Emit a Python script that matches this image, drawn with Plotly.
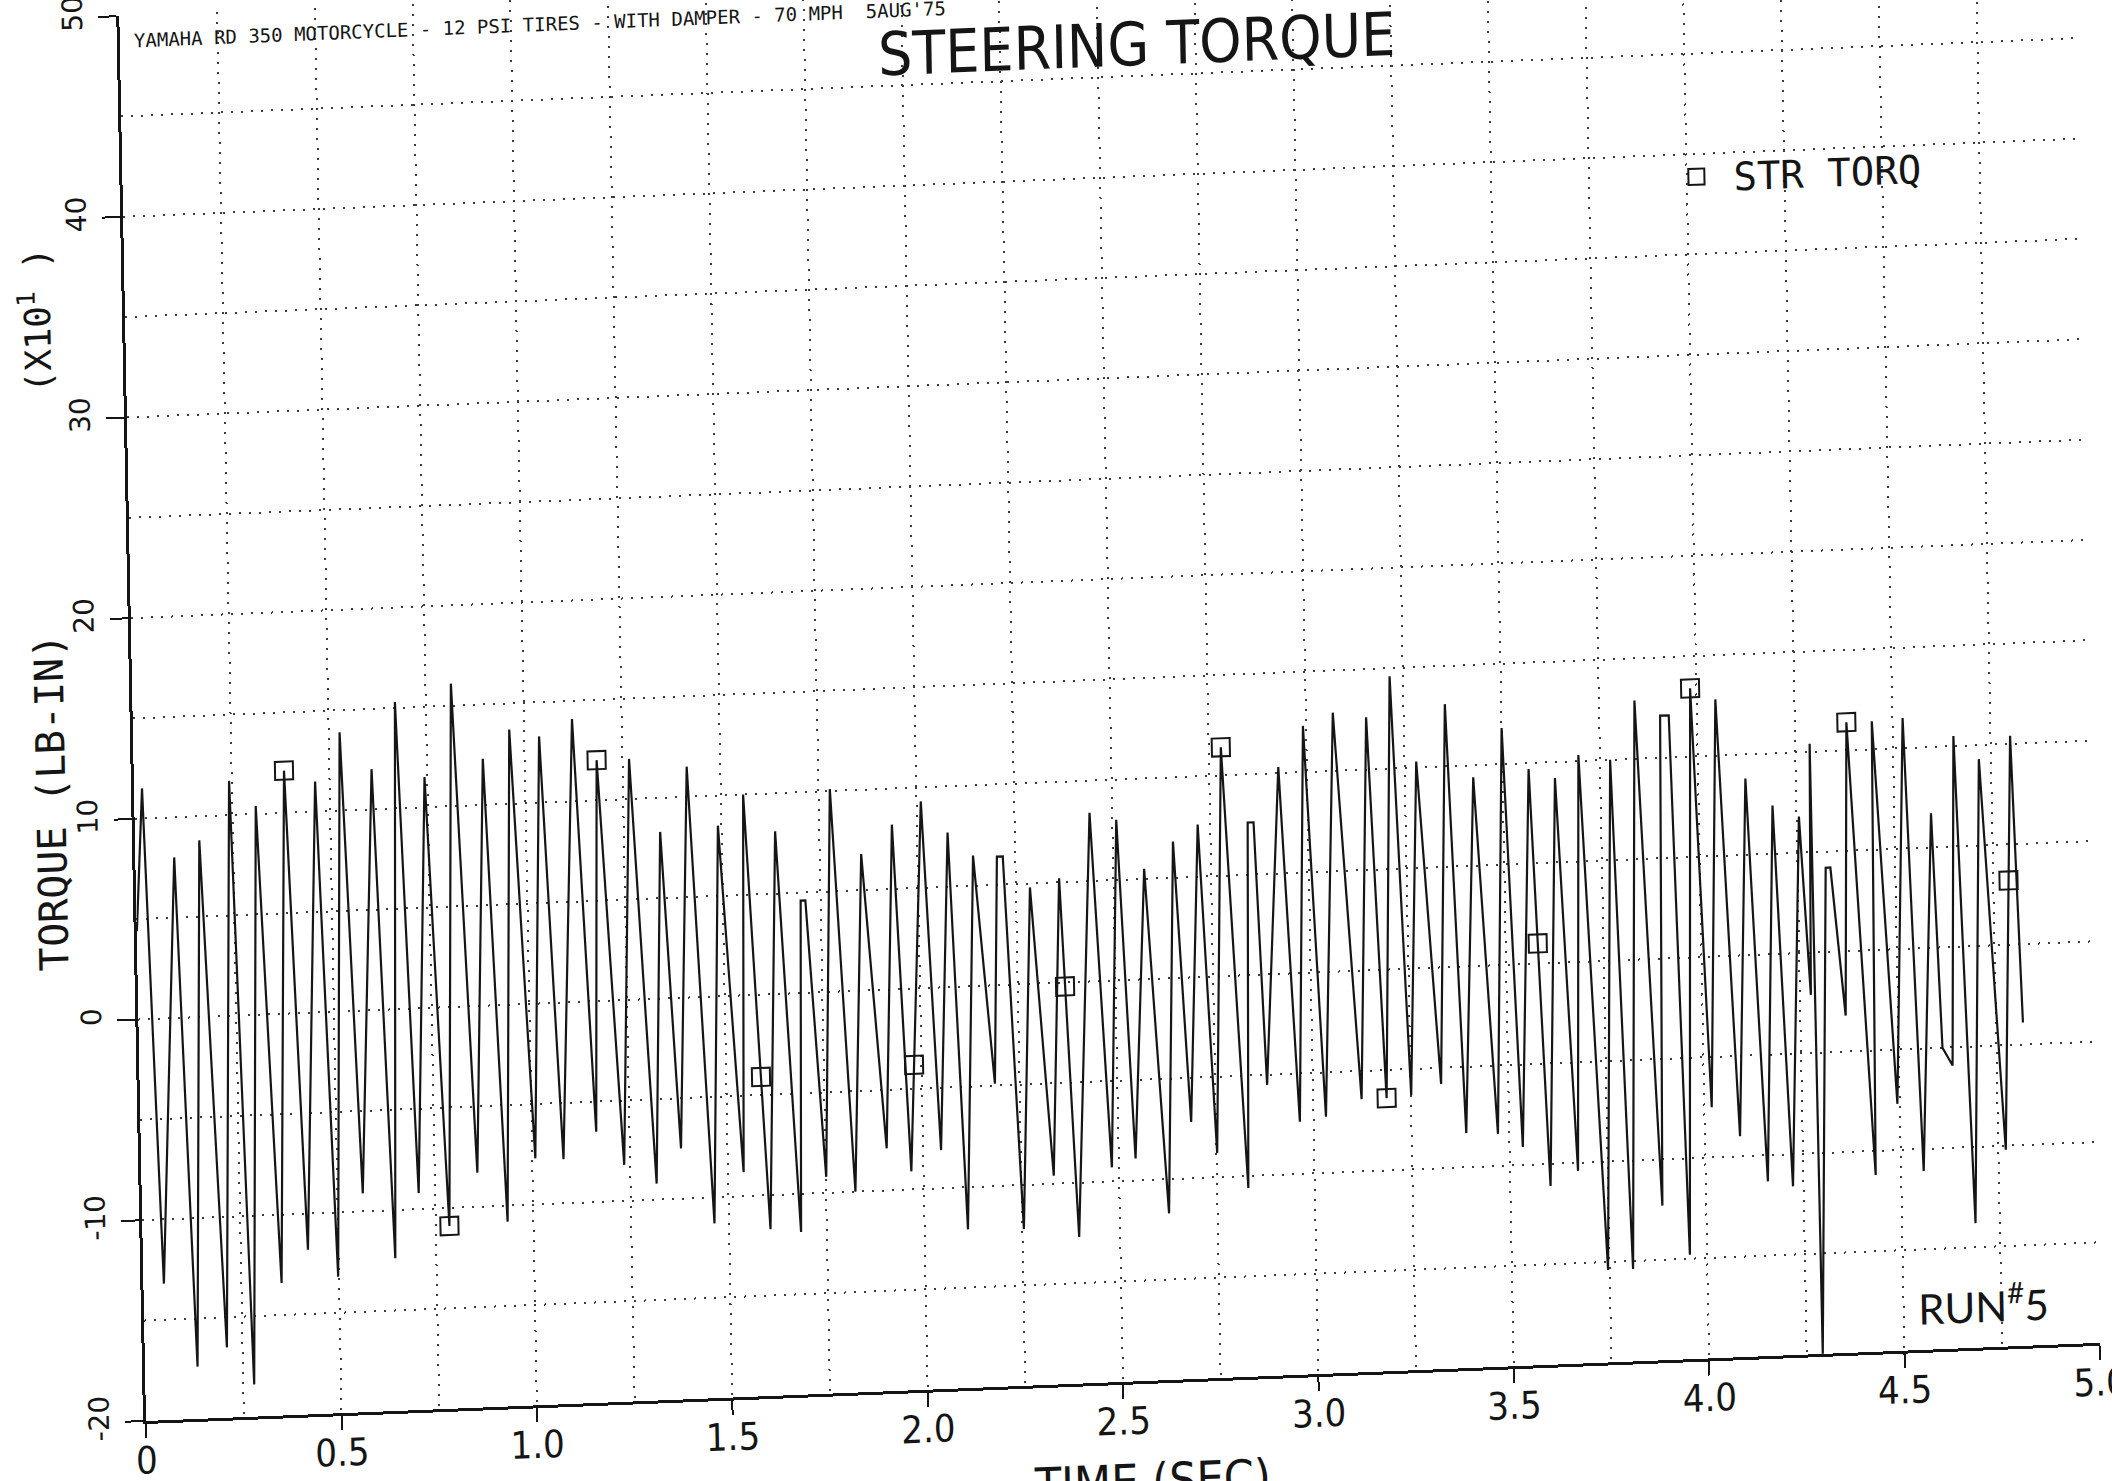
import plotly.graph_objects as go

# ---------------- data ----------------
time_s = [
    0.000, 0.020, 0.052, 0.099, 0.134, 0.164, 0.210, 0.243, 0.278, 0.310,
    0.353, 0.384, 0.422, 0.463, 0.498, 0.528, 0.565, 0.608, 0.645, 0.671,
    0.708, 0.743, 0.785, 0.815, 0.859, 0.893, 0.934, 0.962, 1.008, 1.038,
    1.080, 1.123, 1.165, 1.184, 1.235, 1.267, 1.317, 1.343, 1.381, 1.414,
    1.463, 1.491, 1.540, 1.557, 1.606, 1.637, 1.684, 1.699, 1.711, 1.751,
    1.779, 1.825, 1.856, 1.907, 1.936, 1.969, 2.011, 2.046, 2.078, 2.111,
    2.142, 2.187, 2.203, 2.218, 2.254, 2.286, 2.333, 2.361, 2.395, 2.442,
    2.482, 2.510, 2.543, 2.579, 2.626, 2.654, 2.687, 2.718, 2.752, 2.781,
    2.830, 2.846, 2.861, 2.883, 2.927, 2.965, 2.992, 3.032, 3.069, 3.124,
    3.154, 3.188, 3.216, 3.251, 3.280, 3.328, 3.356, 3.390, 3.425, 3.471,
    3.500, 3.534, 3.567, 3.603, 3.634, 3.674, 3.695, 3.746, 3.776, 3.810,
    3.841, 3.888, 3.906, 3.928, 3.956, 3.984, 4.019, 4.048, 4.090, 4.121,
    4.159, 4.189, 4.223, 4.256, 4.278, 4.287, 4.291, 4.322, 4.334, 4.366,
    4.382, 4.435, 4.447, 4.494, 4.526, 4.558, 4.594, 4.612, 4.637, 4.655,
    4.688, 4.719, 4.769, 4.800, 4.819,
]
torque = [
    4.4, 11.5, -13.2, 8.0, -17.4, 8.8, -16.5, 11.7, -18.4, 10.4,
    -13.4, 12.1, -11.8, 11.5, -13.2, 13.9, -9.1, 12.0, -12.4, 15.3,
    -9.2, 11.5, -10.9, 16.1, -8.3, 12.3, -10.8, 13.7, -7.7, 13.3,
    -7.8, 14.1, -6.5, 12.0, -8.2, 12.0, -9.2, 8.3, -7.5, 11.5,
    -11.3, 8.5, -8.8, 10.0, -11.7, 8.1, -11.9, 4.6, 4.6, -9.2,
    10.1, -10.0, 6.8, -7.9, 8.2, -9.1, 9.3, -8.1, 7.7, -12.1,
    6.5, -4.9, 6.4, 6.4, -12.2, 4.8, -9.6, 5.2, -12.7, 8.4,
    -9.3, 8.0, -8.9, 5.5, -11.7, 6.8, -7.2, 7.6, -8.8, 11.4,
    -10.6, 7.6, 7.6, -5.5, 10.3, -7.4, 12.3, -7.2, 12.9, -6.4,
    12.6, -6.4, 14.6, -6.3, 10.3, -5.8, 13.1, -8.3, 9.4, -8.4,
    11.8, -9.1, 9.7, -11.1, 9.2, -10.4, 10.3, -15.4, 10.0, -15.4,
    12.9, -12.3, 12.1, 12.1, -14.8, 13.4, -7.5, 12.8, -9.0, 8.8,
    -11.3, 7.4, -11.6, 6.8, -2.1, 10.4, -20.0, 4.2, 4.2, -3.2,
    11.4, -11.2, 11.4, -7.7, 11.5, -11.1, 6.7, -5.0, -5.9, 10.5,
    -13.8, 9.3, -10.2, 10.4, -3.9,
]
marker_time = [0.384, 0.785, 1.184, 1.589, 1.981, 2.371, 2.781, 3.188, 3.582, 3.984, 4.382, 4.789]
marker_torque = [12.1, -10.9, 12.0, -4.1, -3.8, -0.2, 11.4, -6.4, 1.0, 13.4, 11.4, 3.2]

x_tick_vals = [0, 0.5, 1.0, 1.5, 2.0, 2.5, 3.0, 3.5, 4.0, 4.5, 5.0]
x_tick_text = ["0", "0.5", "1.0", "1.5", "2.0", "2.5", "3.0", "3.5", "4.0", "4.5", "5.0"]
y_tick_vals = [-20, -10, 0, 10, 20, 30, 40, 50]
y_tick_text = ["-20", "-10", "0", "10", "20", "30", "40", "50"]

# ---------------- styling ----------------
INK = "#151515"
GRID = "#3c3c3c"
MONO = "DejaVu Sans Mono, Liberation Mono, monospace"
NARROW = "Liberation Sans Narrow, DejaVu Sans Condensed, Roboto Condensed, Arial Narrow, sans-serif"
DOTS = "2px,8px"

fig = go.Figure()
fig.add_trace(go.Scatter(
    x=time_s, y=torque, mode="lines",
    line=dict(color=INK, width=2.2), showlegend=False, hoverinfo="skip",
))
fig.add_trace(go.Scatter(
    x=marker_time, y=marker_torque, mode="markers", name="STR TORQ",
    marker=dict(symbol="square-open", size=18, color=INK, line=dict(width=2, color=INK)),
))

axis_common = dict(
    ticks="outside", tickwidth=2, tickcolor=INK,
    showline=True, linewidth=3, linecolor=INK, mirror=False,
    showgrid=True, gridcolor=GRID, gridwidth=2, griddash=DOTS,
    zeroline=False, fixedrange=True, ticklabeloverflow="allow",
)

fig.update_layout(
    width=2112, height=1481,
    margin=dict(l=146, r=12, t=16, b=60, autoexpand=False),
    paper_bgcolor="white", plot_bgcolor="white",
    title=dict(
        text="STEERING TORQUE", xref="paper", yref="paper", x=0.52, y=0.951,
        xanchor="center", yanchor="middle",
        font=dict(family=NARROW, size=60, color=INK),
    ),
    xaxis=dict(
        range=[-0.0005, 5.0005], tickvals=x_tick_vals, ticktext=x_tick_text,
        ticklen=14, ticklabelstandoff=-10,
        tickfont=dict(family=NARROW, size=38, color=INK),
        minor=dict(dtick=0.25, tick0=0, showgrid=True, gridcolor=GRID, gridwidth=2, griddash=DOTS),
        **axis_common,
    ),
    yaxis=dict(
        range=[-20.005, 50.005], tickvals=y_tick_vals, ticktext=y_tick_text, tickangle=-90,
        ticklen=18, ticklabelstandoff=5,
        tickfont=dict(family="DejaVu Sans, sans-serif", size=28, color=INK),
        minor=dict(dtick=5, tick0=0, showgrid=True, gridcolor=GRID, gridwidth=2, griddash=DOTS),
        **axis_common,
    ),
    showlegend=True,
    legend=dict(
        x=0.786, xanchor="left", y=0.8407, yanchor="middle",
        font=dict(family=MONO, size=39, color=INK),
        bgcolor="rgba(0,0,0,0)", borderwidth=0, itemwidth=64,
    ),
    annotations=[
        dict(text="YAMAHA RD 350 MOTORCYCLE - 12 PSI TIRES - WITH DAMPER - 70 MPH  5AUG'75",
             xref="x", yref="y", x=0.03, y=48.75, xanchor="left", yanchor="middle",
             showarrow=False, font=dict(family=MONO, size=19, color=INK)),
        dict(text="(X10<sup>1</sup> )", xref="paper", yref="y", x=-0.046, y=35,
             textangle=-90, showarrow=False, xanchor="center", yanchor="middle",
             font=dict(family=MONO, size=36, color=INK)),
        dict(text="TORQUE (LB-IN)", xref="paper", yref="y", x=-0.0425, y=11,
             textangle=-90, showarrow=False, xanchor="center", yanchor="middle",
             font=dict(family=MONO, size=40, color=INK)),
        dict(text="TIME (SEC)", xref="x", yref="paper", x=2.57, y=-0.05,
             xanchor="center", yanchor="top", showarrow=False,
             font=dict(family=NARROW, size=48, color=INK)),
        dict(text="RUN<sup>#</sup>5", xref="x", yref="y", x=4.705, y=-17.8,
             xanchor="center", yanchor="middle", showarrow=False,
             font=dict(family="Lato, Open Sans, sans-serif", size=42, color=INK)),
    ],
)

# The scanned page is slightly skewed: reproduce it with an affine CSS transform
post = """
var gd = document.getElementById('{plot_id}');
document.documentElement.style.overflow = 'hidden';
document.body.style.margin = '0';
document.body.style.overflow = 'hidden';
gd.querySelectorAll('svg').forEach(function(s){ s.style.overflow = 'visible'; });
gd.style.transformOrigin = '146px 1421px';
gd.style.transform = 'matrix(1,-0.04,0.019,1,0,0)';
"""

fig.write_html("out.html", config={"displayModeBar": False}, post_script=post)
